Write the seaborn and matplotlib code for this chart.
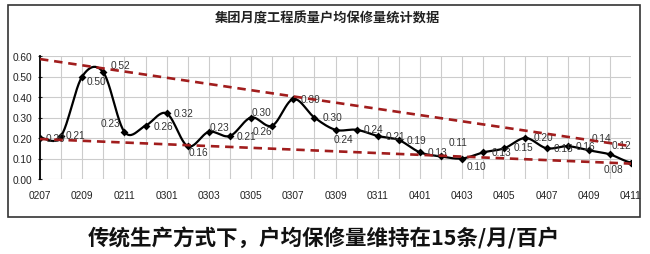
import numpy as np
import pandas as pd
import matplotlib
matplotlib.use("Agg")
import matplotlib.pyplot as plt
import seaborn as sns
from matplotlib.patches import Rectangle

# ---------------- data ----------------
months = ["0207", "0208", "0209", "0210", "0211", "0212", "0301", "0302", "0303",
          "0304", "0305", "0306", "0307", "0308", "0309", "0310", "0311", "0312",
          "0401", "0402", "0403", "0404", "0405", "0406", "0407", "0408", "0409",
          "0410", "0411"]
values = [0.20, 0.21, 0.50, 0.52, 0.23, 0.26, 0.32, 0.16, 0.23,
          0.21, 0.30, 0.26, 0.39, 0.30, 0.24, 0.24, 0.21, 0.19,
          0.13, 0.11, 0.10, 0.13, 0.15, 0.20, 0.15, 0.16, 0.14,
          0.12, 0.08]
upper_trend = [0.585, 0.160]   # value at first and last month
lower_trend = [0.195, 0.075]
y_ticks = [0.0, 0.1, 0.2, 0.3, 0.4, 0.5, 0.6]
title = "集团月度工程质量户均保修量统计数据"
caption = "传统生产方式下，户均保修量维持在15条/月/百户"

# label offsets in pixels (dx, dy up, ha)
label_offsets = [(6, 0, "left"), (5, 1, "left"), (4, -5, "left"), (7, 7, "left"),
                 (-4, 9, "right"), (8, 0, "left"), (7, 0, "left"), (1, -6, "left"),
                 (1, 5, "left"), (7, 0, "left"), (1, 5, "left"), (0, -5, "right"),
                 (7, 0, "left"), (8, 0, "left"), (-2, -9, "left"), (7, 1, "left"),
                 (8, 0, "left"), (8, 0, "left"), (8, 0, "left"), (8, 14, "left"),
                 (4, -8, "left"), (8, 0, "left"), (9, 1, "left"), (8, 1, "left"),
                 (7, 0, "left"), (8, 0, "left"), (3, 12, "left"), (2, 9, "left"),
                 (-8, -6, "right")]

# ---------------- smoothing (Bezier, like Excel smooth line) ----------------
def smooth(y, n=24):
    y = np.asarray(y, float)
    xs, ys = [], []
    N = len(y)
    for i in range(N - 1):
        p0 = y[i - 1] if i > 0 else y[i]
        p1, p2 = y[i], y[i + 1]
        p3 = y[i + 2] if i + 2 < N else y[i + 1]
        t = np.linspace(0, 1, n, endpoint=False)
        c1 = p1 + (p2 - p0) / 6
        c2 = p2 - (p3 - p1) / 6
        b = ((1 - t) ** 3) * p1 + 3 * ((1 - t) ** 2) * t * c1 + 3 * (1 - t) * t ** 2 * c2 + t ** 3 * p2
        xs.append(i + t)
        ys.append(b)
    xs.append([N - 1])
    ys.append([y[-1]])
    return np.concatenate(xs), np.concatenate(ys)

sns.set_theme(style="white")
plt.rcParams["font.family"] = ["Liberation Sans", "Noto Sans CJK SC", "DejaVu Sans"]

fig = plt.figure(figsize=(6.5, 2.55), dpi=100)
ax = fig.add_axes([40 / 650, 75 / 255, 591 / 650, 123 / 255])

x_idx = np.arange(len(months))
df = pd.DataFrame({"x": x_idx, "value": values})
sx, sy = smooth(values)
sdf = pd.DataFrame({"x": sx, "value": sy})

# grid
for xi in x_idx:
    ax.axvline(xi, color="#cccccc", lw=0.8, zorder=0)
for yt in y_ticks:
    ax.axhline(yt, color="#cccccc", lw=0.8, zorder=0)

sns.lineplot(data=sdf, x="x", y="value", color="black", lw=1.6, ax=ax, zorder=3)
sns.scatterplot(data=df, x="x", y="value", color="black", marker="D", s=16,
                edgecolor="black", linewidth=0, ax=ax, zorder=4)

tdf = pd.DataFrame({"x": [0, len(months) - 1] * 2,
                    "value": upper_trend + lower_trend,
                    "which": ["u", "u", "l", "l"]})
for w in ["u", "l"]:
    sub = tdf[tdf["which"] == w]
    sns.lineplot(data=sub, x="x", y="value", color="#a11d1d", lw=1.9,
                 ax=ax, zorder=5, dashes=False).lines[-1].set_dashes((3.2, 2.2))

for xi, v, (dx, dy, ha) in zip(x_idx, values, label_offsets):
    ax.annotate(f"{v:.2f}", (xi, v), xytext=(dx * 0.72, dy * 0.72),
                textcoords="offset points", ha=ha, va="center",
                fontsize=7.3, color="#333333", zorder=4.5)

ax.set_xlim(0, len(months) - 1)
ax.set_ylim(0, 0.6)
ax.set_xticks(x_idx[::2])
ax.set_xticklabels(months[::2])
ax.set_yticks(y_ticks)
ax.set_yticklabels([f"{t:.2f}" for t in y_ticks])
ax.set_xlabel("")
ax.set_ylabel("")
ax.tick_params(axis="x", length=0, pad=8, labelsize=7.3, colors="#222222")
ax.tick_params(axis="y", length=3, direction="inout", pad=4, labelsize=7.3,
               colors="#222222", left=True, width=0.8)
for s in ["top", "right", "bottom"]:
    ax.spines[s].set_visible(False)
ax.spines["left"].set_color("black")
ax.spines["left"].set_linewidth(1.3)
ax.legend_ = None

# frame around the chart
fig.patches.append(Rectangle((8 / 650, 37 / 255), 632 / 650, 212 / 255,
                             transform=fig.transFigure, fill=False,
                             edgecolor="#333333", lw=1.2))

fig.text(327 / 650, 1 - 18 / 255, title, ha="center", va="center",
         fontsize=9.5, fontweight="bold", color="#222222",
         family=["Noto Sans CJK SC", "DejaVu Sans"])
fig.text(324 / 650, 1 - 238 / 255, caption, ha="center", va="center",
         fontsize=15.5, fontweight="bold", color="#111111",
         family=["Noto Sans CJK SC", "DejaVu Sans"])

fig.savefig("out.png", dpi=100, facecolor="white")
